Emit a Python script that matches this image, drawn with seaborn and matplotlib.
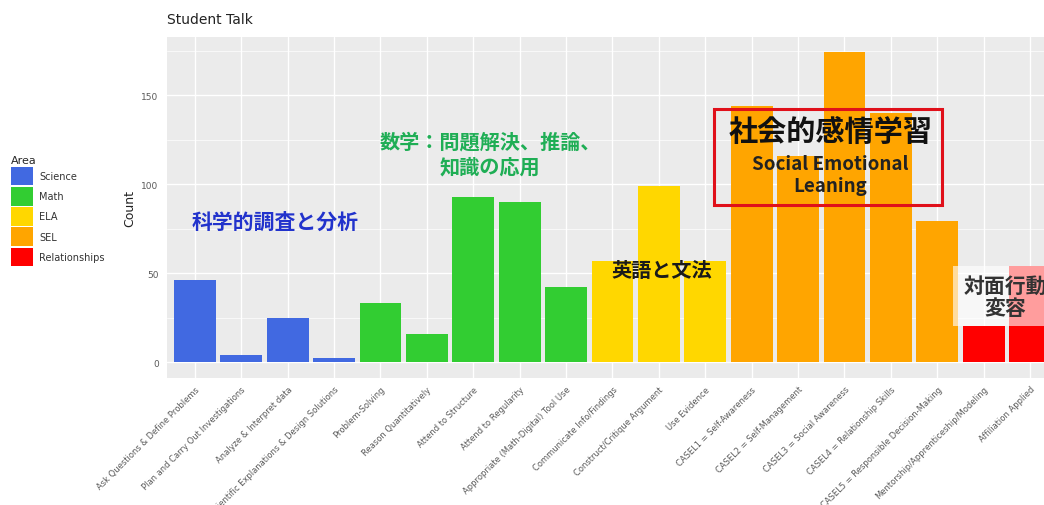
import matplotlib
matplotlib.use("Agg")
import matplotlib.pyplot as plt
import seaborn as sns
import pandas as pd
from matplotlib.patches import Rectangle, Patch

categories = [
    "Ask Questions & Define Problems",
    "Plan and Carry Out Investigations",
    "Analyze & Interpret data",
    "Scientific Explanations & Design Solutions",
    "Problem-Solving",
    "Reason Quantitatively",
    "Attend to Structure",
    "Attend to Regularity",
    "Appropriate (Math-Digital) Tool Use",
    "Communicate Info/Findings",
    "Construct/Critique Argument",
    "Use Evidence",
    "CASEL1 = Self-Awareness",
    "CASEL2 = Self-Management",
    "CASEL3 = Social Awareness",
    "CASEL4 = Relationship Skills",
    "CASEL5 = Responsible Decision-Making",
    "Mentorship/Apprenticeship/Modeling",
    "Affiliation Applied",
]
counts = [46, 4, 25, 2, 33, 16, 93, 90, 42, 57, 99, 57, 144, 116, 174, 140, 79, 20, 54]
areas = ["Science"] * 4 + ["Math"] * 5 + ["ELA"] * 3 + ["SEL"] * 5 + ["Relationships"] * 2
area_order = ["Science", "Math", "ELA", "SEL", "Relationships"]
area_colors = ["#4169E1", "#32CD32", "#FFD700", "#FFA500", "#FF0000"]
yticks = [0, 50, 100, 150]

df = pd.DataFrame({"Category": categories, "Count": counts, "Area": areas})

sns.set_theme(style="darkgrid")
plt.rcParams["font.family"] = ["DejaVu Sans", "Noto Sans CJK JP"]
jp = ["Noto Sans CJK JP", "DejaVu Sans"]

fig = plt.figure(figsize=(10.44, 5.06), dpi=100)
ax = fig.add_axes([167 / 1044, 1 - 378.5 / 506, (1044 - 167) / 1044, (378.5 - 38) / 506])
ax.set_facecolor("#EBEBEB")

sns.barplot(data=df, x="Category", y="Count", hue="Area", hue_order=area_order,
            palette=dict(zip(area_order, area_colors)), dodge=False, width=0.9,
            saturation=1, ax=ax, legend=False, zorder=2, edgecolor="none")

ax.set_xlim(-0.6, 18.3)
ax.set_ylim(-8.7, 182.7)
ax.set_yticks(yticks)
ax.set_yticks([25, 75, 125, 175], minor=True)
ax.grid(True, which="major", color="white", linewidth=1.0, zorder=0)
ax.grid(True, which="minor", axis="y", color="white", linewidth=0.5, zorder=0)
ax.set_axisbelow(True)
for s in ax.spines.values():
    s.set_visible(False)

ax.tick_params(axis="both", which="major", length=3, color="#333333", labelcolor="#5a5a5a",
               labelsize=6.5, pad=2)
ax.tick_params(axis="y", which="major", pad=3)
ax.tick_params(axis="y", which="minor", length=0)
ax.set_xticks(range(len(categories)))
ax.set_xticklabels(categories, rotation=45, ha="right", rotation_mode="anchor", fontsize=6)
ax.set_xlabel("")
ax.set_ylabel("Count", fontsize=9, color="#222222", labelpad=4)

fig.text(167 / 1044, 1 - 20 / 506, "Student Talk", fontsize=10, color="#222222",
         ha="left", va="center")

# legend
handles = [Patch(facecolor=c, edgecolor="none") for c in area_colors]
leg = fig.legend(handles, area_order, loc="upper left", bbox_to_anchor=(0.004, 0.705),
                 frameon=False, title="Area", fontsize=7, title_fontsize=8,
                 handlelength=2.3, handleheight=2.6, labelspacing=0.15,
                 handletextpad=0.6, borderpad=0.2, alignment="left")
for t in leg.get_texts():
    t.set_color("#333333")

# annotations
ax.text(1.72, 79, "科学的調査と分析", family=jp, fontsize=15, fontweight="bold",
        color="#2233CC", ha="center", va="center", zorder=5)
ax.text(6.36, 117.4, "数学：問題解決、推論、\n知識の応用", family=jp, fontsize=14.5, fontweight="bold",
        color="#1FAE55", ha="center", va="center", linespacing=1.25, zorder=5)
ax.text(10.06, 52, "英語と文法", family=jp, fontsize=14.5, fontweight="bold",
        color="#1a1a1a", ha="center", va="center", zorder=5)
ax.text(13.7, 130, "社会的感情学習", family=jp, fontsize=21, fontweight="bold",
        color="#111111", ha="center", va="center", zorder=5)
ax.text(13.7, 105.6, "Social Emotional\nLeaning", family=jp, fontsize=13.5, fontweight="bold",
        color="#222222", ha="center", va="center", linespacing=1.2, zorder=5)
ax.add_patch(Rectangle((11.19, 88), 4.91, 54, fill=False, edgecolor="#E0101A",
                       linewidth=2.2, zorder=6))
ax.add_patch(Rectangle((16.34, 20), 2.2, 34, facecolor="white", edgecolor="none",
                       alpha=0.62, zorder=4))
ax.text(17.46, 37, "対面行動\n変容", family=jp, fontsize=15, fontweight="bold",
        color="#333333", ha="center", va="center", linespacing=1.1, zorder=5)

fig.savefig("out.png", dpi=100)
